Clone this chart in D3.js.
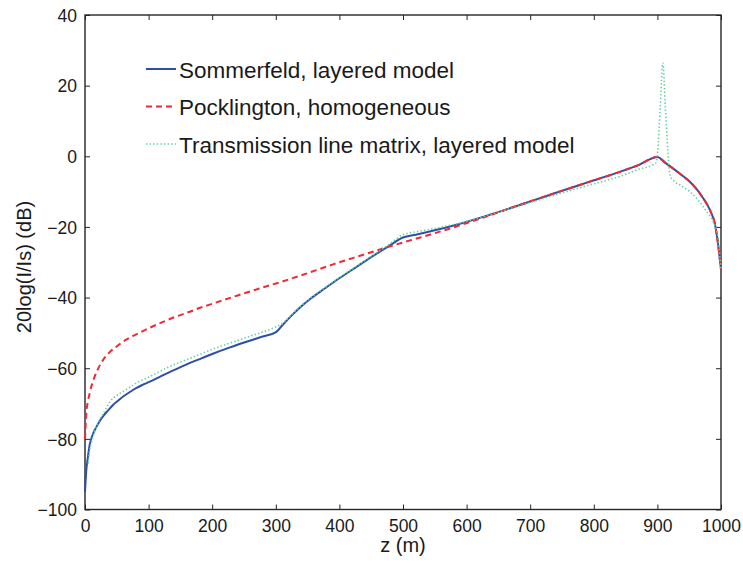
<!DOCTYPE html>
<html>
<head>
<meta charset="utf-8">
<script src="https://cdn.jsdelivr.net/npm/d3@7"></script>
<style>
  html, body { margin: 0; padding: 0; background: #fff; }
  svg { display: block; font-family: "Liberation Sans", Arial, sans-serif; }
</style>
</head>
<body>
<svg id="chart" width="743" height="563"></svg>
<script>
// Current along the conductor, 20log(I/Is) in dB versus height z in metres

// Sommerfeld, layered model
const sommerfeldZ = [0, 2, 4.7, 7, 10, 14, 18, 23, 28, 36, 44, 52, 60, 70, 81, 90, 102, 117, 133, 150, 165, 183, 201, 228, 254, 278, 301, 311, 322, 338, 354, 378, 401, 427, 453, 477, 500, 520, 542, 580, 632, 680, 736, 790, 841, 870, 900, 912, 925, 938, 951, 962, 972, 979, 985, 990, 993, 995, 997, 1000];
const sommerfeldDb = [-95, -89, -85, -82, -79.9, -78, -76.6, -75, -73.7, -72, -70.4, -69.2, -68.0, -66.8, -65.6, -64.75, -63.8, -62.5, -61.1, -59.7, -58.5, -57.2, -55.9, -54.1, -52.5, -51.1, -49.7, -47.7, -45.6, -42.8, -40.4, -37.3, -34.4, -31.3, -28.2, -25.5, -23, -22.2, -21.3, -19.6, -16.8, -14.0, -10.6, -7.4, -4.4, -2.5, -0.2, -1.8, -3.5, -5.3, -7.2, -9.4, -11.9, -13.9, -16.2, -18.8, -21.8, -24.3, -27.3, -32];

// Pocklington, homogeneous
const pocklingtonZ = [0, 2, 4.5, 7.4, 11, 15.2, 21, 28.3, 38, 49.3, 64, 80.7, 100, 122.6, 143, 164.6, 181, 201, 240, 285.6, 306, 340, 390, 430, 469, 500, 527, 542, 580, 632, 680, 736, 790, 841, 870, 900, 912, 925, 938, 951, 962, 972, 979, 985, 990, 993, 995, 997, 1000];
const pocklingtonDb = [-80, -72.8, -69.5, -67.1, -64.5, -62.4, -60, -57.7, -55.6, -53.9, -52.0, -50.4, -48.7, -46.9, -45.4, -44.0, -42.9, -41.7, -39.4, -36.8, -35.7, -33.7, -30.6, -28.3, -26.1, -24.4, -23.0, -22.2, -20.1, -17.0, -14.0, -10.6, -7.4, -4.4, -2.5, -0.2, -1.8, -3.5, -5.3, -7.2, -9.4, -11.9, -13.9, -16.2, -18.8, -21.8, -24.3, -27.3, -32];

// Transmission line matrix, layered model
const tlmZ = [5, 7.3, 10, 15, 22, 30, 40, 49, 60, 80, 101.6, 130, 165, 201, 250, 300, 311, 322, 338, 354, 378, 401, 427, 453, 477, 500, 520, 542, 580, 632, 680, 736, 790, 841, 872, 893, 898, 900.5, 904.5, 908.5, 912.5, 916.5, 920, 925, 938, 951, 962, 972, 980, 988, 993, 996, 998, 1000];
const tlmDb = [-87, -83.2, -81, -78, -75, -72.5, -69.3, -67.8, -66.6, -64.3, -62.4, -59.8, -57.2, -54.6, -51.5, -48.3, -47.3, -45.4, -42.6, -40.2, -37.1, -34.2, -31.1, -28.0, -25.1, -22.2, -21.4, -20.7, -19.3, -16.8, -14.2, -11.1, -8.3, -5.7, -3.6, -2.4, -1.8, 1.5, 14, 26.4, 14, 1.5, -5.5, -6.8, -8.4, -10, -12, -14.3, -16.3, -18.6, -21, -24, -28, -32];

const xTicks = [0, 100, 200, 300, 400, 500, 600, 700, 800, 900, 1000];
const yTicks = [-100, -80, -60, -40, -20, 0, 20, 40];

const legendLabels = ["Sommerfeld, layered model", "Pocklington, homogeneous", "Transmission line matrix, layered model"];

const series = [
  { name: legendLabels[0], z: sommerfeldZ, v: sommerfeldDb, color: "#2f4fa6", width: 2, dash: null },
  { name: legendLabels[1], z: pocklingtonZ, v: pocklingtonDb, color: "#ee2a36", width: 2, dash: "6,4" },
  { name: legendLabels[2], z: tlmZ, v: tlmDb, color: "#62cfa0", width: 1.6, dash: "1.4,2.2" }
];

const svg = d3.select("#chart");
const plot = { left: 85, right: 721, top: 15, bottom: 509.5 };

const x = d3.scaleLinear().domain([0, 1000]).range([plot.left, plot.right]);
const y = d3.scaleLinear().domain([-100, 40]).range([plot.bottom, plot.top]);

const axisColor = "#262626";
const tickFont = 17.5;

// Axes with inward ticks on all four sides
const gBottom = svg.append("g").attr("transform", `translate(0,${plot.bottom})`)
  .call(d3.axisBottom(x).tickValues(xTicks).tickSizeInner(-5).tickSizeOuter(0).tickPadding(10).tickFormat(d3.format("d")));
const gTop = svg.append("g").attr("transform", `translate(0,${plot.top})`)
  .call(d3.axisTop(x).tickValues(xTicks).tickSizeInner(-5).tickSizeOuter(0).tickFormat(""));
const gLeft = svg.append("g").attr("transform", `translate(${plot.left},0)`)
  .call(d3.axisLeft(y).tickValues(yTicks).tickSizeInner(-5).tickSizeOuter(0).tickPadding(8).tickFormat(d3.format("d")));
const gRight = svg.append("g").attr("transform", `translate(${plot.right},0)`)
  .call(d3.axisRight(y).tickValues(yTicks).tickSizeInner(-5).tickSizeOuter(0).tickFormat(""));

[gBottom, gTop, gLeft, gRight].forEach(g => {
  g.select(".domain").remove();
  g.selectAll(".tick line").attr("stroke", axisColor).attr("stroke-width", 1);
  g.selectAll(".tick text").attr("fill", "#1a1a1a").attr("font-size", tickFont)
    .attr("font-family", "'Liberation Sans', Arial, sans-serif");
});
gBottom.selectAll(".tick text").attr("dy", "0.71em");
gLeft.selectAll(".tick text").attr("dy", "0.36em");

// Box frame
svg.append("rect")
  .attr("x", plot.left).attr("y", plot.top)
  .attr("width", plot.right - plot.left).attr("height", plot.bottom - plot.top)
  .attr("fill", "none").attr("stroke", axisColor).attr("stroke-width", 1.4);

// Curves
const line = d3.line().x(d => x(d[0])).y(d => y(d[1])).curve(d3.curveMonotoneX);
series.forEach(s => {
  const pts = s.z.map((z, i) => [z, s.v[i]]);
  svg.append("path")
    .datum(pts)
    .attr("d", line)
    .attr("fill", "none")
    .attr("stroke", s.color)
    .attr("stroke-width", s.width)
    .attr("stroke-dasharray", s.dash)
    .attr("stroke-linejoin", "round");
});

// Legend
const legend = svg.append("g");
series.forEach((s, i) => {
  const ly = 69 + i * 37.5;
  legend.append("line")
    .attr("x1", 146).attr("x2", 176).attr("y1", ly).attr("y2", ly)
    .attr("stroke", s.color).attr("stroke-width", s.width)
    .attr("stroke-dasharray", s.dash);
  legend.append("text")
    .attr("x", 179).attr("y", ly + 8.5)
    .attr("font-size", 22.5).attr("fill", "#1a1a1a")
    .text(s.name);
});

// Axis titles
svg.append("text")
  .attr("x", (plot.left + plot.right) / 2).attr("y", 552)
  .attr("text-anchor", "middle").attr("font-size", 20).attr("fill", "#1a1a1a")
  .text("z (m)");
svg.append("text")
  .attr("transform", `translate(31,${267}) rotate(-90)`)
  .attr("text-anchor", "middle").attr("font-size", 20).attr("fill", "#1a1a1a")
  .text("20log(I/Is) (dB)");
</script>
</body>
</html>
